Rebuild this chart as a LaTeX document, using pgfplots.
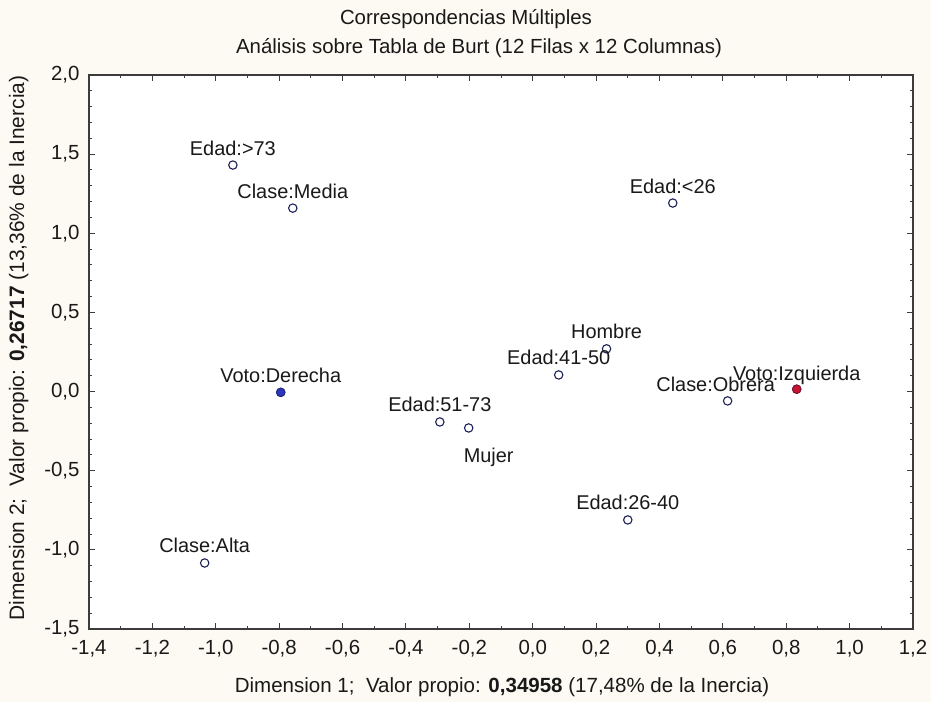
\documentclass[border=0pt]{standalone}
\usepackage{pgfplots}
\usepackage{pgfplotstable}
\pgfplotsset{compat=1.18}
\usepackage{fontspec}
\setmainfont{Liberation Sans}
\definecolor{bgc}{RGB}{252,250,242}
\definecolor{edge}{RGB}{30,32,90}
\definecolor{vblue}{RGB}{45,55,190}
\definecolor{vred}{RGB}{200,20,50}
\definecolor{txt}{RGB}{25,25,25}
\definecolor{axc}{RGB}{60,60,60}

\pgfplotstableread{
x y dx dy label
-0.946 1.431 0 10 Edad:>73
-0.757 1.159 0 10 Clase:Media
0.442 1.191 0 10 Edad:<26
0.233 0.270 0 10 Hombre
0.082 0.105 0 10 Edad:41-50
-0.795 -0.005 0 10 Voto:Derecha
-0.293 -0.192 0 10 Edad:51-73
-0.202 -0.230 20 -35 Mujer
0.615 -0.059 -12 9 Clase:Obrera
0.833 0.015 0 9 Voto:Izquierda
0.300 -0.811 0 10 Edad:26-40
-1.035 -1.083 0 10 Clase:Alta
}\ptsdata

\pgfplotstableread{
x y
-0.795 -0.005
}\derecha

\pgfplotstableread{
x y
0.833 0.015
}\izquierda

\newcommand{\fs}{\fontsize{20}{24}\selectfont}

\begin{document}
\begin{tikzpicture}[x=1bp,y=1bp]
\fill[bgc] (0,0) rectangle (931,702);
\begin{axis}[
  at={(89bp,73bp)}, anchor=south west,
  width=824bp, height=554bp, scale only axis,
  xmin=-1.4, xmax=1.2, ymin=-1.5, ymax=2,
  axis background/.style={fill=white},
  axis line style={draw=axc, line width=1.3bp},
  xtick={-1.4,-1.2,...,1.25},
  ytick={-1.5,-1,...,2.1},
  minor x tick num=1,
  minor y tick num=4,
  tick align=inside,
  tick pos=both,
  major tick length=6bp,
  minor tick length=3bp,
  every tick/.style={draw=axc, line width=1bp},
  /pgf/number format/.cd, fixed, fixed zerofill, precision=1, use comma, assume math mode=true,
  /pgfplots/.cd,
  ticklabel style={font=\fontsize{20.5}{24}\selectfont, text=txt},
  xticklabel style={yshift=-8bp},
  yticklabel style={xshift=-6bp},
  clip=false,
]
\addplot[only marks, mark=*, mark size=4.2bp,
  mark options={draw=edge, fill=white, line width=1.1bp},
  point meta=explicit symbolic,
  visualization depends on={\thisrow{dx} \as \myDX},
  visualization depends on={\thisrow{dy} \as \myDY},
  nodes near coords,
  nodes near coords style={anchor=base, xshift=\myDX bp, yshift=\myDY bp, font=\fs, text=txt, inner sep=0pt},
] table[x=x, y=y, meta=label] {\ptsdata};
\addplot[only marks, mark=*, mark size=4.2bp,
  mark options={draw=vblue!70!black, fill=vblue, line width=0.8bp}] table[x=x,y=y] {\derecha};
\addplot[only marks, mark=*, mark size=4.2bp,
  mark options={draw=vred!70!black, fill=vred, line width=0.8bp}] table[x=x,y=y] {\izquierda};
\end{axis}
\node[font=\fontsize{20.5}{24}\selectfont, text=txt, anchor=base] at (466bp, 677bp) {Correspondencias Múltiples};
\node[font=\fontsize{20.5}{24}\selectfont, text=txt, anchor=base] at (479bp, 648bp) {Análisis sobre Tabla de Burt (12 Filas x 12 Columnas)};
\node[font=\fontsize{20.6}{24}\selectfont, text=txt, anchor=base] at (502bp, 9bp) {Dimension 1;\ \ Valor propio: \textbf{0,34958} (17,48\% de la Inercia)};
\node[font=\fontsize{21}{24}\selectfont, text=txt, anchor=base, rotate=90] at (24bp, 354bp) {Dimension 2;\ \ Valor propio: \textbf{0,26717} (13,36\% de la Inercia)};
\end{tikzpicture}
\end{document}
